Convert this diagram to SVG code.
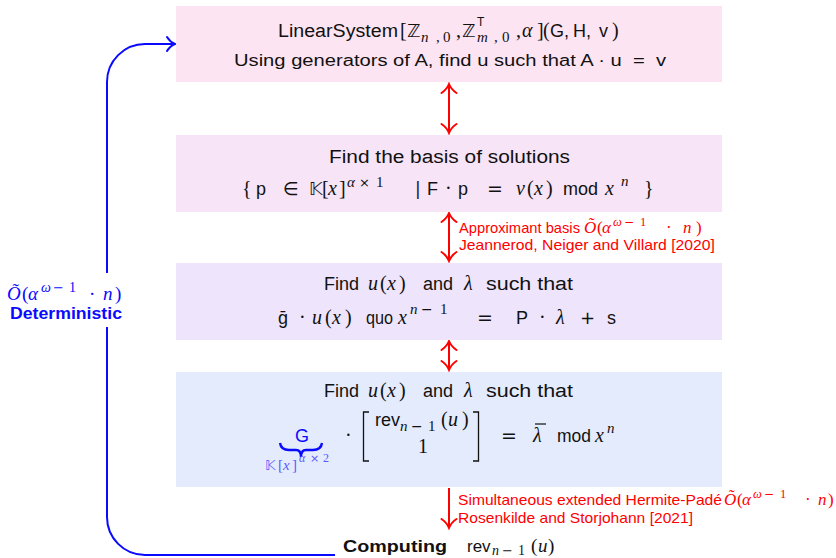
<svg xmlns="http://www.w3.org/2000/svg" width="836" height="558" viewBox="0 0 836 558">
<defs>
<style>
.s{font-family:"Liberation Sans",Arial,sans-serif;font-style:normal}
.m{font-family:"Liberation Serif","Times New Roman",serif;font-style:italic}
.r{font-family:"Liberation Serif","Times New Roman",serif;font-style:normal}
.bb{font-family:"DejaVu Sans","DejaVu Serif",sans-serif;font-style:normal}
.k{fill:#111}
.f18{font-size:18px}
.red{fill:#ff0000}
.blue{fill:#0a0aff}
.lblue{fill:#5a5aff}
.box{stroke:none}
.conn{fill:none;stroke-width:2}
</style>
<marker id="rh" viewBox="-11 -9 13 18" markerWidth="13" markerHeight="18" refX="0" refY="0" orient="auto-start-reverse" markerUnits="userSpaceOnUse">
<path d="M-9,-7.5 C-6,-3 -2.5,-1 0,0 C-2.5,1 -6,3 -9,7.5" fill="none" stroke="#ff0000" stroke-width="2" stroke-linecap="round"/>
</marker>
<marker id="bh" viewBox="-11 -9 13 18" markerWidth="13" markerHeight="18" refX="0" refY="0" orient="auto" markerUnits="userSpaceOnUse">
<path d="M-8,-7 C-5.5,-3 -2.5,-1 0,0 C-2.5,1 -5.5,3 -8,7" fill="none" stroke="#0a0aff" stroke-width="2" stroke-linecap="round"/>
</marker>
</defs>
<rect width="836" height="558" fill="#ffffff"/>

<g id="connectors">
<line class="conn" stroke="#ff0000" x1="449" y1="84" x2="449" y2="133" marker-start="url(#rh)" marker-end="url(#rh)"/>
<line class="conn" stroke="#ff0000" x1="449" y1="213" x2="449" y2="261" marker-start="url(#rh)" marker-end="url(#rh)"/>
<line class="conn" stroke="#ff0000" x1="449" y1="341" x2="449" y2="370" marker-start="url(#rh)" marker-end="url(#rh)"/>
<line class="conn" stroke="#ff0000" x1="449" y1="488" x2="449" y2="528" marker-end="url(#rh)"/>
<path class="conn" stroke="#0a0aff" d="M335,555 H145 A38,38 0 0 1 107,517 V327"/>
<path class="conn" stroke="#0a0aff" d="M107,273 V82 A38,38 0 0 1 145,44 H175" marker-end="url(#bh)"/>
<g id="label-approx" class="red">
<text x="459" y="233" class="s" font-size="14.5" textLength="121" lengthAdjust="spacingAndGlyphs">Approximant basis</text>
<text y="233" font-size="17"><tspan x="584" class="m">Õ</tspan><tspan x="597" class="r">(</tspan><tspan x="602" class="m">α</tspan><tspan x="613" y="226" class="m" font-size="12.5">ω</tspan><tspan x="624" y="226" class="bb" font-size="12">−</tspan><tspan x="640" y="226" class="r" font-size="12.5">1</tspan><tspan x="666" y="233" class="r">·</tspan><tspan x="683" class="m">n</tspan><tspan x="696" class="r">)</tspan></text>
<text x="459" y="250" class="s" font-size="14.5" textLength="256" lengthAdjust="spacingAndGlyphs">Jeannerod, Neiger and Villard [2020]</text>
</g>
<g id="label-hermite" class="red">
<text x="458" y="505" class="s" font-size="14.5" textLength="264" lengthAdjust="spacingAndGlyphs">Simultaneous extended Hermite-Padé</text>
<text y="505" font-size="17"><tspan x="724" class="m">Õ</tspan><tspan x="737" class="r">(</tspan><tspan x="742" class="m">α</tspan><tspan x="753" y="498" class="m" font-size="12.5">ω</tspan><tspan x="764" y="498" class="bb" font-size="12">−</tspan><tspan x="780" y="498" class="r" font-size="12.5">1</tspan><tspan x="805" y="505" class="r">·</tspan><tspan x="818" class="m">n</tspan><tspan x="828" class="r">)</tspan></text>
<text x="458" y="523" class="s" font-size="14.5" textLength="235" lengthAdjust="spacingAndGlyphs">Rosenkilde and Storjohann [2021]</text>
</g>
<g id="label-det" class="blue">
<text y="300" font-size="19"><tspan x="7" class="m">Õ</tspan><tspan x="22" class="r">(</tspan><tspan x="28" class="m">α</tspan><tspan x="41" y="292" class="m" font-size="14">ω</tspan><tspan x="53" y="292" class="bb" font-size="13">−</tspan><tspan x="69" y="292" class="r" font-size="14">1</tspan><tspan x="89" y="300" class="r">·</tspan><tspan x="103" class="m">n</tspan><tspan x="115" class="r">)</tspan></text>
<text x="10" y="319" class="s" font-size="16.5" font-weight="bold" textLength="112" lengthAdjust="spacingAndGlyphs">Deterministic</text>
</g>
</g>

<g id="node-linear">
<rect class="box" x="176" y="6" width="546" height="76" fill="#fde4f2"/>
<text class="k f18" y="37"><tspan x="278" class="s" textLength="120" lengthAdjust="spacingAndGlyphs">LinearSystem</tspan><tspan x="400" class="r" font-size="20">[</tspan><tspan x="407" class="bb">ℤ</tspan><tspan x="421" y="42" class="m" font-size="15">n</tspan><tspan x="436" y="42" class="r" font-size="15">,</tspan><tspan x="443" y="42" class="r" font-size="15">0</tspan><tspan x="456" y="37" class="r" font-size="20">,</tspan><tspan x="462" class="bb">ℤ</tspan><tspan x="477" y="26" class="s" font-size="12">T</tspan><tspan x="477" y="42" class="m" font-size="15">m</tspan><tspan x="494" y="42" class="r" font-size="15">,</tspan><tspan x="502" y="42" class="r" font-size="15">0</tspan><tspan x="516" y="37" class="r" font-size="20">,</tspan><tspan x="522" class="m" font-size="20">α</tspan><tspan x="537" class="r" font-size="20">]</tspan><tspan x="543" class="r" font-size="20">(</tspan><tspan x="550" class="s">G,</tspan><tspan x="573" class="s">H,</tspan><tspan x="599" class="s">v</tspan><tspan x="612" class="r" font-size="20">)</tspan></text>
<text class="k s" x="234" y="66" font-size="16" textLength="432" lengthAdjust="spacingAndGlyphs">Using generators of A, find u such that A · u &#160;=&#160; v</text>
</g>

<g id="node-basis">
<rect class="box" x="176" y="135" width="546" height="77" fill="#f7e4f7"/>
<text class="k s f18" x="329" y="163" textLength="241" lengthAdjust="spacingAndGlyphs">Find the basis of solutions</text>
<text class="k f18" y="195"><tspan x="242" class="r" font-size="20">{</tspan><tspan x="256" class="s">p</tspan><tspan x="283" class="bb">∈</tspan><tspan x="309" class="bb">𝕂</tspan><tspan x="322" class="r" font-size="20">[</tspan><tspan x="328" class="m" font-size="20">x</tspan><tspan x="339" class="r" font-size="20">]</tspan><tspan x="347" y="187" class="m" font-size="15">α</tspan><tspan x="359" y="187" class="bb" font-size="13">×</tspan><tspan x="376" y="187" class="r" font-size="15">1</tspan><tspan x="415" y="195" class="bb" font-size="17">|</tspan><tspan x="427" class="s">F</tspan><tspan x="445" class="r" font-size="20">·</tspan><tspan x="458" class="s">p</tspan><tspan x="487" class="bb" font-size="19">=</tspan><tspan x="516" class="m" font-size="20">v</tspan><tspan x="527" class="r" font-size="20">(</tspan><tspan x="534" class="m" font-size="20">x</tspan><tspan x="546" class="r" font-size="20">)</tspan><tspan x="563" class="s" textLength="35" lengthAdjust="spacingAndGlyphs">mod</tspan><tspan x="605" class="m" font-size="20">x</tspan><tspan x="621" y="186" class="m" font-size="15">n</tspan><tspan x="644" y="195" class="r" font-size="20">}</tspan></text>
</g>

<g id="node-quo">
<rect class="box" x="176" y="263" width="546" height="77" fill="#eee4fb"/>
<text class="k f18" y="290"><tspan x="324" class="s">Find</tspan><tspan x="368" class="m" font-size="20">u</tspan><tspan x="380" class="r" font-size="20">(</tspan><tspan x="387" class="m" font-size="20">x</tspan><tspan x="399" class="r" font-size="20">)</tspan><tspan x="423" class="s">and</tspan><tspan x="464" class="m" font-size="20">λ</tspan><tspan x="486" class="s" textLength="87" lengthAdjust="spacingAndGlyphs">such that</tspan></text>
<text class="k f18" y="324"><tspan x="278" class="s">ḡ</tspan><tspan x="299" class="r" font-size="20">·</tspan><tspan x="312" class="m" font-size="20">u</tspan><tspan x="325" class="r" font-size="20">(</tspan><tspan x="332" class="m" font-size="20">x</tspan><tspan x="345" class="r" font-size="20">)</tspan><tspan x="366" class="s" textLength="27" lengthAdjust="spacingAndGlyphs">quo</tspan><tspan x="398" class="m" font-size="20">x</tspan><tspan x="410" y="314" class="m" font-size="15">n</tspan><tspan x="421" y="314" class="bb" font-size="14">−</tspan><tspan x="440" y="314" class="r" font-size="15">1</tspan><tspan x="477" y="324" class="bb" font-size="19">=</tspan><tspan x="516" class="s">P</tspan><tspan x="539" class="r" font-size="20">·</tspan><tspan x="556" class="m" font-size="20">λ</tspan><tspan x="580" class="bb">+</tspan><tspan x="607" class="s">s</tspan></text>
</g>

<g id="node-hermite">
<rect class="box" x="176" y="372" width="546" height="115" fill="#e4ebfd"/>
<text class="k f18" y="397"><tspan x="324" class="s">Find</tspan><tspan x="368" class="m" font-size="20">u</tspan><tspan x="380" class="r" font-size="20">(</tspan><tspan x="387" class="m" font-size="20">x</tspan><tspan x="399" class="r" font-size="20">)</tspan><tspan x="423" class="s">and</tspan><tspan x="464" class="m" font-size="20">λ</tspan><tspan x="486" class="s" textLength="87" lengthAdjust="spacingAndGlyphs">such that</tspan></text>
<text class="s f18 blue" x="295" y="442">G</text>
<path d="M280,443 Q281,450 289,450 L296,450 Q301,450 301,457 Q301,450 306,450 L313,450 Q321,450 322,443" fill="none" stroke="#0a0aff" stroke-width="2.4"/>
<text class="lblue" y="470" font-size="15"><tspan x="265" class="bb" font-size="14">𝕂</tspan><tspan x="278" class="r">[</tspan><tspan x="283" class="m">x</tspan><tspan x="292" class="r">]</tspan><tspan x="299" y="462" class="m" font-size="12">α</tspan><tspan x="310" y="462" class="bb" font-size="11">×</tspan><tspan x="323" y="462" class="r" font-size="12">2</tspan></text>
<text class="k r" x="345" y="442" font-size="20">·</text>
<path d="M369,412 H363.5 V461 H369 M473,412 H478.5 V461 H473" fill="none" stroke="#111" stroke-width="1.3"/>
<text class="k f18" y="426"><tspan x="375" class="s">rev</tspan><tspan x="400" y="431" class="m" font-size="15">n</tspan><tspan x="411" y="431" class="bb" font-size="14">−</tspan><tspan x="428" y="431" class="r" font-size="15">1</tspan><tspan x="441" y="426" class="r" font-size="20">(</tspan><tspan x="448" class="m" font-size="20">u</tspan><tspan x="462" class="r" font-size="20">)</tspan></text>
<text class="k r" x="418" y="453" font-size="20">1</text>
<text class="k bb" x="501" y="442" font-size="19">=</text>
<text class="k m" x="533" y="442" font-size="20">λ</text>
<line x1="535" y1="424" x2="546" y2="424" stroke="#111" stroke-width="1.2"/>
<text class="k f18" y="442"><tspan x="557" class="s" textLength="34" lengthAdjust="spacingAndGlyphs">mod</tspan><tspan x="595" class="m" font-size="20">x</tspan><tspan x="607" y="433" class="m" font-size="15">n</tspan></text>
</g>

<g id="node-computing">
<text class="k" y="552" font-size="17"><tspan x="343" class="s" font-weight="bold" textLength="104" lengthAdjust="spacingAndGlyphs">Computing</tspan><tspan x="467" class="s">rev</tspan><tspan x="492" y="555" class="m" font-size="14">n</tspan><tspan x="502" y="555" class="bb" font-size="13">−</tspan><tspan x="518" y="555" class="r" font-size="14">1</tspan><tspan x="531" y="552" class="r" font-size="19">(</tspan><tspan x="538" class="m" font-size="19">u</tspan><tspan x="548" class="r" font-size="19">)</tspan></text>
</g>
</svg>
